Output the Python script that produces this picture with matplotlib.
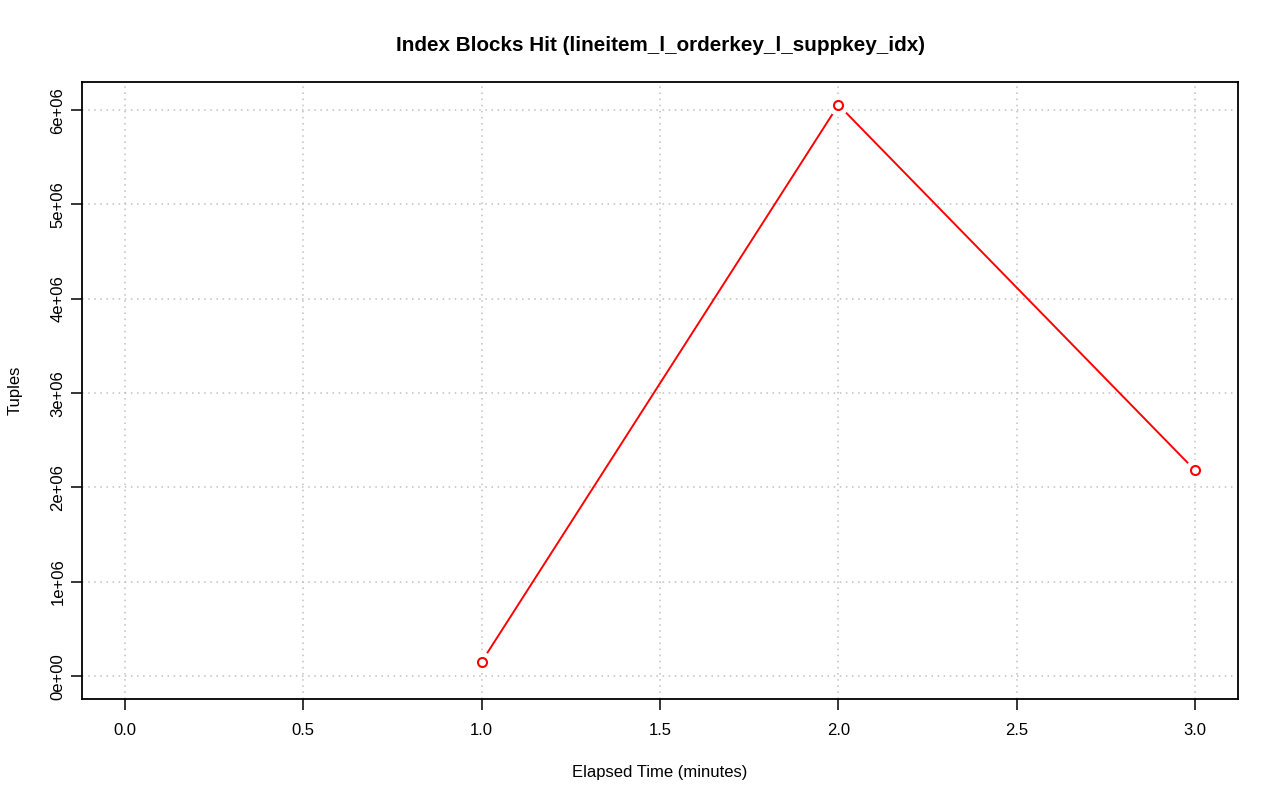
import numpy as np
import matplotlib.pyplot as plt

plt.rcParams['font.family'] = ['Liberation Sans', 'DejaVu Sans']

# data
minutes = [1.0, 2.0, 3.0]
tuples = [152000, 6056000, 2180000]
xticks = [0.0, 0.5, 1.0, 1.5, 2.0, 2.5, 3.0]
yticks = [0, 1e6, 2e6, 3e6, 4e6, 5e6, 6e6]
ylabels = ['0e+00', '1e+06', '2e+06', '3e+06', '4e+06', '5e+06', '6e+06']

fig = plt.figure(figsize=(12.8, 8.01), dpi=100)
ax = fig.add_axes([82/1280, 102/801, 1156/1280, 617/801])

# R style type="b": line with gaps round the points
ax.plot(minutes, tuples, color='red', lw=1.4, zorder=2)
ax.plot(minutes, tuples, 'o', ms=14, color='white', mec='white', zorder=3)
ax.plot(minutes, tuples, 'o', ms=6.5, mfc='white', mec='red', mew=1.5, zorder=4)

xmax = 3.0
ymax = max(tuples)
ax.set_xlim(-0.04*xmax, xmax*1.04)
ax.set_ylim(-0.04*ymax, ymax*1.04)

ax.set_xticks(xticks)
ax.set_xticklabels(['%.1f' % v for v in xticks], fontsize=12)
ax.set_yticks(yticks)
ax.set_yticklabels(ylabels, fontsize=12, rotation=90, va='center')
ax.tick_params(direction='out', length=8, width=1.1)
ax.tick_params(axis='x', pad=9)
ax.tick_params(axis='y', pad=4)
ax.grid(True, color='#c0c0c0', linestyle=(0, (1, 3)), lw=1.1)
for s in ax.spines.values():
    s.set_linewidth(1.3)

ax.set_title('Index Blocks Hit (lineitem_l_orderkey_l_suppkey_idx)',
             fontsize=14.9, fontweight='bold', pad=22)
ax.set_xlabel('Elapsed Time (minutes)', fontsize=12, labelpad=20)
ax.set_ylabel('Tuples', fontsize=12, labelpad=20)

fig.savefig('out.png', dpi=100)
